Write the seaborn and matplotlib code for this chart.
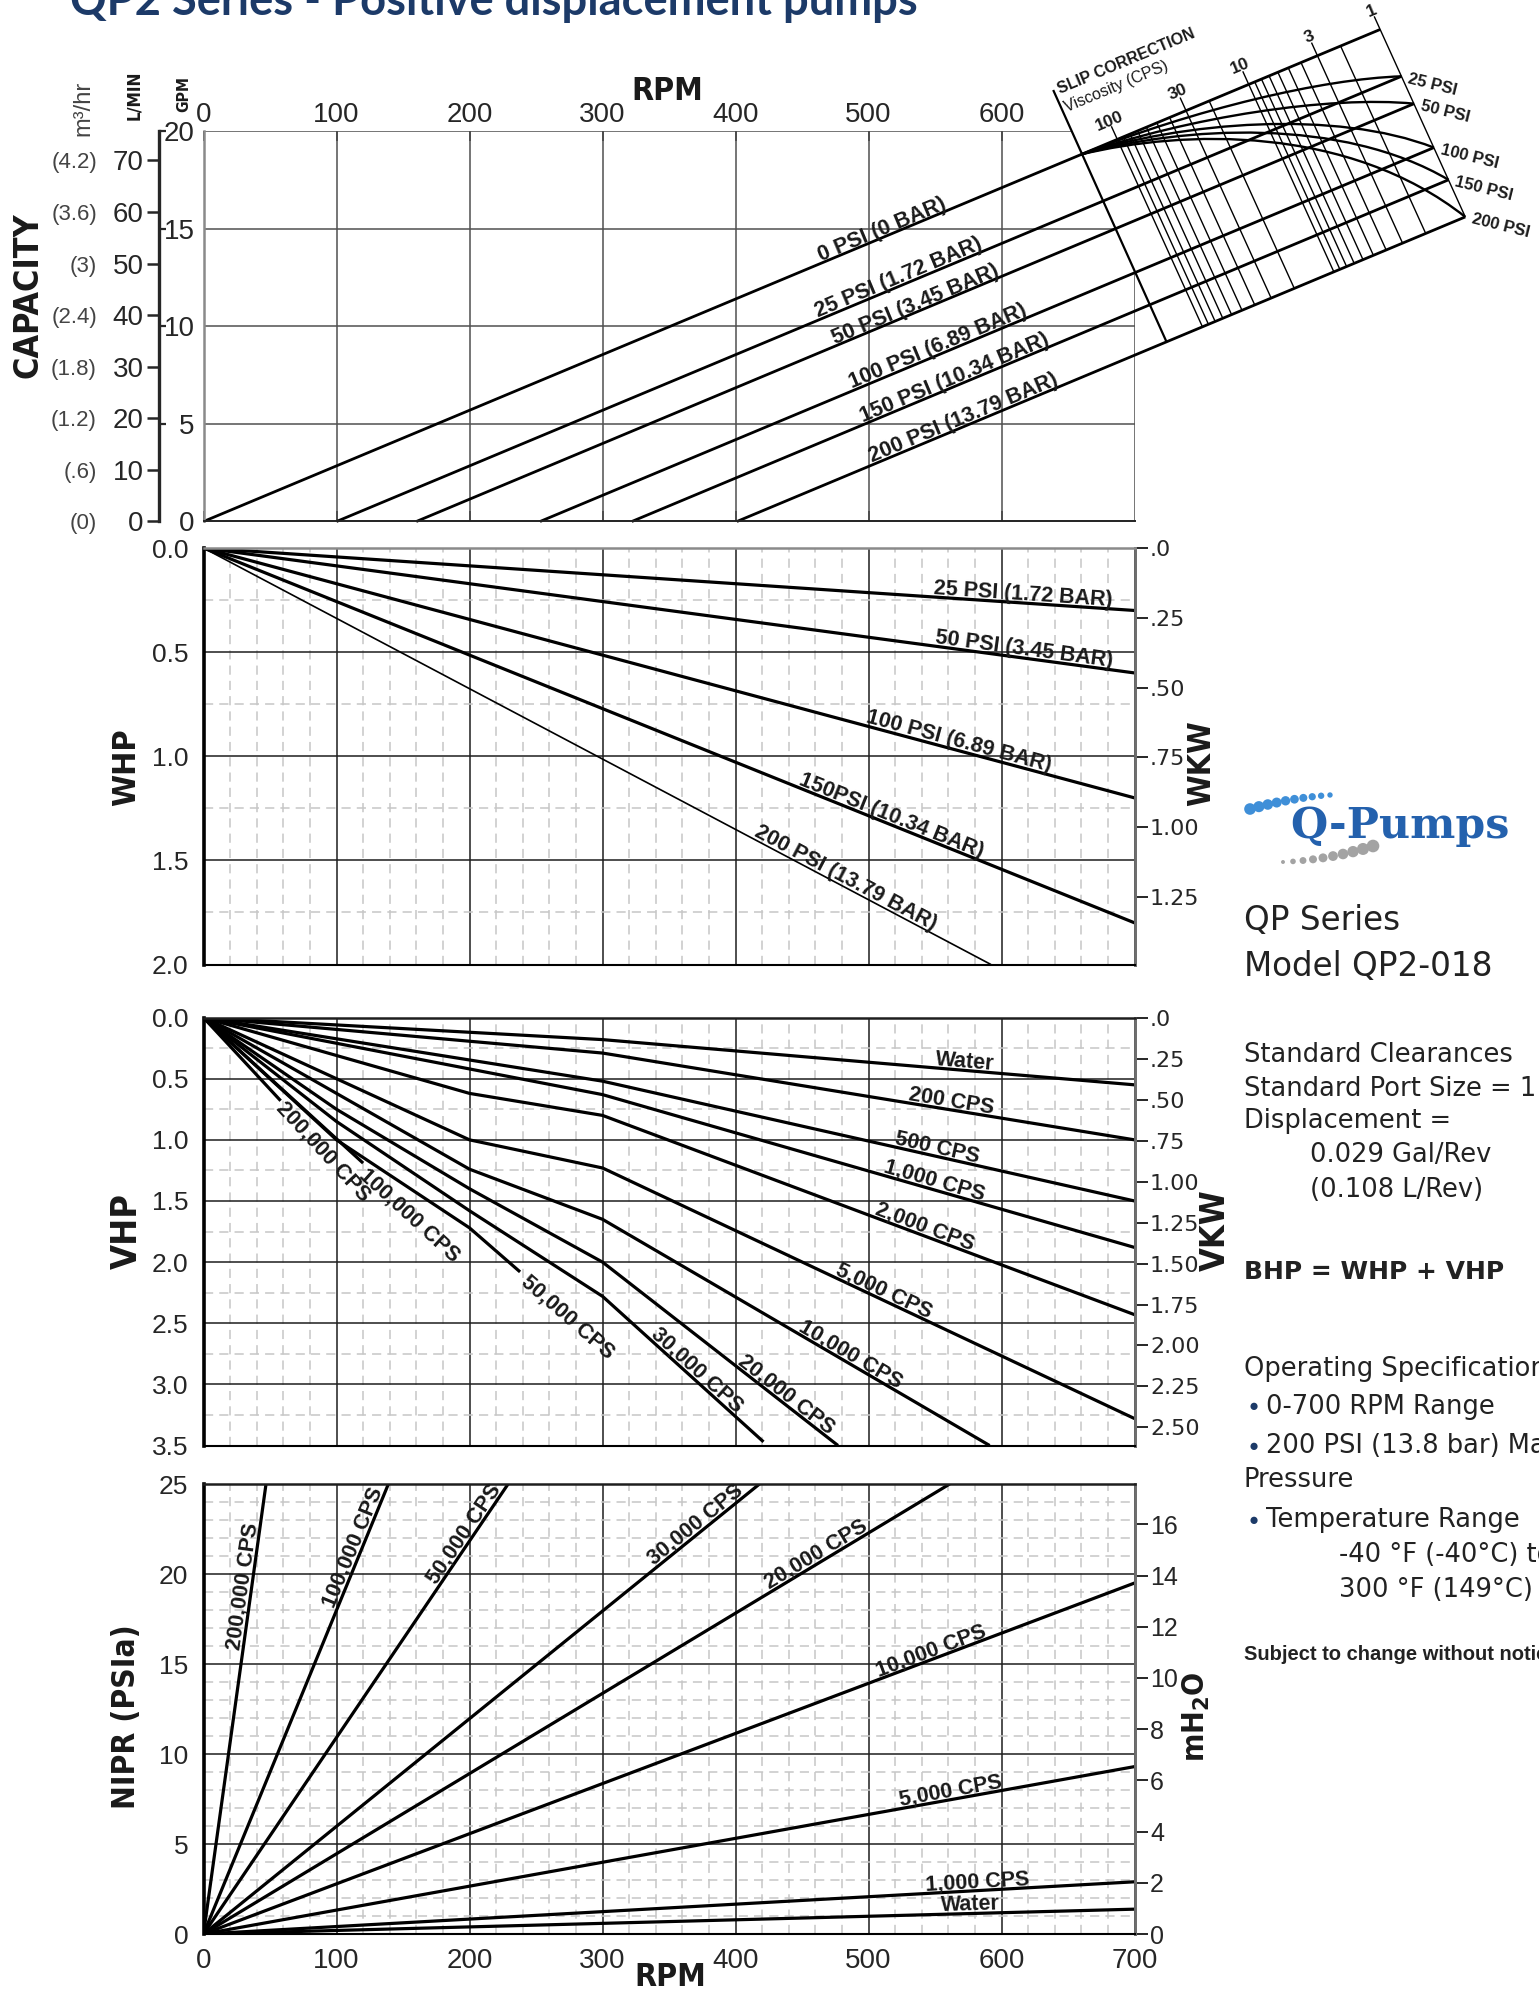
#!/usr/bin/env python3
import numpy as np
import pandas as pd
import matplotlib

matplotlib.use("Agg")
import matplotlib.pyplot as plt  # noqa: E402
import seaborn as sns  # noqa: E402
from matplotlib import font_manager  # noqa: E402
from matplotlib.patches import PathPatch  # noqa: E402
from matplotlib.path import Path  # noqa: E402
from matplotlib.ticker import MultipleLocator  # noqa: E402

# --- capacity (GPM vs RPM); each pressure line runs on through the slip scale
CAP_LABELS = ["0 PSI (0 BAR)", "25 PSI (1.72 BAR)", "50 PSI (3.45 BAR)",
              "100 PSI (6.89 BAR)", "150 PSI (10.34 BAR)", "200 PSI (13.79 BAR)"]
CAP_START_RPM = [0, 100, 160, 253, 322, 401]
CAP_END_RPM = [884.6, 900.6, 910.1, 925.0, 936.0, 948.6]
CAP_END_GPM = [25.2, 22.8, 21.4, 19.15, 17.5, 15.6]
CAP_LABEL_RPM = [512.6, 525.0, 537.4, 554.6, 567.0, 573.8]
GPM_TICKS = [0, 5, 10, 15, 20]
LPM_TICKS = [0, 10, 20, 30, 40, 50, 60, 70]
M3H_LABELS = ["(0)", "(.6)", "(1.2)", "(1.8)", "(2.4)", "(3)", "(3.6)", "(4.2)"]

# --- slip correction scale (log viscosity, 100 cps -> 1 cps)
SLIP_PSI = ["25 PSI", "50 PSI", "100 PSI", "150 PSI", "200 PSI"]
SLIP_VISC = [100, 90, 80, 70, 60, 50, 40, 30, 20, 10, 9, 8, 7, 6, 5, 4, 3, 2, 1]
SLIP_VISC_TICKS = [100, 30, 10, 3, 1]
SLIP_RPM_100 = 687.0
SLIP_RPM_1 = 884.6
SLIP_EDGE_RPM = [638.8, 724.0]
SLIP_EDGE_GPM = [22.1, 9.2]
SLIP_FOCUS = [659.8, 18.8]
SLIP_C1_RPM = [745.9, 741.1, 736.4, 736.4, 736.4]
SLIP_C1_GPM = [21.13, 20.72, 20.47, 20.26, 20.07]
SLIP_C2_RPM = [841.5, 846.3, 851.1, 855.9, 860.7]
SLIP_C2_GPM = [22.67, 21.82, 21.11, 20.72, 20.33]

# --- water horsepower
WHP_LABELS = ["25 PSI (1.72 BAR)", "50 PSI (3.45 BAR)", "100 PSI (6.89 BAR)",
              "150PSI (10.34 BAR)", "200 PSI (13.79 BAR)"]
WHP_END_RPM = [700, 700, 700, 700, 592]
WHP_END_HP = [0.30, 0.60, 1.20, 1.80, 2.00]
WHP_LABEL_RPM = [616, 616, 566, 515, 480]
WKW_TICKS = [0, 0.25, 0.5, 0.75, 1.0, 1.25]
WKW_LABELS = [".0", ".25", ".50", ".75", "1.00", "1.25"]

# --- viscous horsepower
VHP_LABELS = ["Water", "200 CPS", "500 CPS", "1,000 CPS", "2,000 CPS", "5,000 CPS",
              "10,000 CPS", "20,000 CPS", "30,000 CPS", "50,000 CPS",
              "100,000 CPS", "200,000 CPS"]
VHP_RPM = [[0, 300, 700], [0, 300, 700], [0, 300, 700], [0, 300, 700],
           [0, 200, 300, 700], [0, 200, 300, 700], [0, 200, 300, 591],
           [0, 100, 200, 300, 477], [0, 100, 200, 300, 421], [0, 100, 200, 238],
           [0, 120], [0, 58]]
VHP_HP = [[0, 0.18, 0.55], [0, 0.29, 1.00], [0, 0.52, 1.50], [0, 0.63, 1.88],
          [0, 0.62, 0.80, 2.43], [0, 1.00, 1.23, 3.28], [0, 1.24, 1.65, 3.50],
          [0, 0.75, 1.40, 2.00, 3.50], [0, 0.85, 1.58, 2.28, 3.47],
          [0, 1.00, 1.72, 2.08], [0, 1.19], [0, 0.68]]
# labels sit on their line at LABEL_RPM; the last three run on past the line end
VHP_LABEL_RPM = [572, 561, 550, 548, 540, 509, 483, 434, 367, 273.5, 154.9, 89.9]
VHP_TAIL_HP = [2.448, 1.615, 1.094]
VKW_TICKS = [0, 0.25, 0.5, 0.75, 1.0, 1.25, 1.5, 1.75, 2.0, 2.25, 2.5]
VKW_LABELS = [".0", ".25", ".50", ".75", "1.00", "1.25", "1.50", "1.75", "2.00",
              "2.25", "2.50"]

# --- net inlet pressure required
NPR_LABELS = ["Water", "1,000 CPS", "5,000 CPS", "10,000 CPS", "20,000 CPS",
              "30,000 CPS", "50,000 CPS", "100,000 CPS", "200,000 CPS"]
NPR_END_RPM = [700, 700, 700, 700, 561, 418, 229, 139, 47]
NPR_END_PSI = [1.38, 2.9, 9.3, 19.5, 25, 25, 25, 25, 25]
NPR_LABEL_RPM = [577, 582, 563, 549, 464, 374, 201, 118.4, 36.2]
MH2O_TICKS = [0, 2, 4, 6, 8, 10, 12, 14, 16]

HP_TO_KW = 0.7457
GPM_TO_LPM = 3.7854
PSI_TO_M = 0.7031

sns.set_style("white")
_fonts = font_manager.fontManager.ttflist
_names = {f.name for f in _fonts}
SANS = "Liberation Sans" if "Liberation Sans" in _names else "DejaVu Sans"
WIDE = "DejaVu Sans"
if "Liberation Sans Narrow" in _names:
    COND = dict(fontfamily="Liberation Sans Narrow")
elif any(f.name == "DejaVu Sans" and "condensed" in str(f.stretch) for f in _fonts):
    COND = dict(fontfamily="DejaVu Sans", fontstretch="condensed")
else:
    COND = dict(fontfamily=SANS)
plt.rcParams["font.family"] = [SANS, "DejaVu Sans"]
plt.rcParams["text.color"] = "#1a1a1a"

FW, FH = 1539.0, 1995.0
fig = plt.figure(figsize=(FW / 100, FH / 100), dpi=100)
fig.patch.set_facecolor("white")


def fpos(x, y):
    return x / FW, 1.0 - y / FH


def panel(top, bottom):
    return fig.add_axes([203.5 / FW, 1 - bottom / FH, 931.1 / FW, (bottom - top) / FH])


ax_cap = panel(131, 521.5)
ax_whp = panel(548, 964.5)
ax_vhp = panel(1017.6, 1445.5)
ax_npr = panel(1484, 1934)


def draw(ax, df, x, y, lw, units=None, clip=True):
    n = len(ax.lines)
    sns.lineplot(data=df, x=x, y=y, units=units, estimator=None, sort=False,
                 color="black", linewidth=lw, ax=ax, legend=False)
    for ln in ax.lines[n:]:
        ln.set_clip_on(clip)
        ln.set_solid_capstyle("butt")
    ax.set_xlabel("")
    ax.set_ylabel("")


def long_df(rpms, vals, names):
    rows = []
    for r, v, nm in zip(rpms, vals, names):
        for a, b in zip(r, v):
            rows.append((a, b, nm))
    return pd.DataFrame(rows, columns=["rpm", "val", "line"])


def seg_angle(ax, xs, ys, x_at):
    xs = np.asarray(xs, float)
    ys = np.asarray(ys, float)
    k = int(np.clip(np.searchsorted(xs, x_at), 1, len(xs) - 1))
    p0, p1 = ax.transData.transform([(xs[k - 1], ys[k - 1]), (xs[k], ys[k])])
    return np.degrees(np.arctan2(p1[1] - p0[1], p1[0] - p0[0]))


LABEL_KW = dict(fontsize=15.5, fontweight="bold", fontfamily=SANS,
                rotation_mode="anchor", ha="center", color="#1a1a1a")


def line_label(ax, text, xs, ys, x_at, gap=3.0):
    """Text sitting on top of a line, turned to the line's slope."""
    ang = seg_angle(ax, xs, ys, x_at)
    y_at = float(np.interp(x_at, xs, ys))
    th = np.radians(ang)
    ax.annotate(text, xy=(x_at, y_at), xytext=(-np.sin(th) * gap, np.cos(th) * gap),
                textcoords="offset pixels", rotation=ang, va="baseline",
                annotation_clip=False, **LABEL_KW)


def on_cap_line(i, rpm):
    return float(np.interp(rpm, [CAP_START_RPM[i], CAP_END_RPM[i]], [0.0, CAP_END_GPM[i]]))


# ================= capacity + slip correction =================
ax = ax_cap
cap_df = long_df([[CAP_START_RPM[i], CAP_END_RPM[i]] for i in range(6)],
                 [[0.0, CAP_END_GPM[i]] for i in range(6)], CAP_LABELS)
draw(ax, cap_df, "rpm", "val", 2.0, units="line", clip=False)

span = SLIP_RPM_1 - SLIP_RPM_100
shift = CAP_END_RPM[-1] - CAP_END_RPM[0]
visc_rows = []
visc_top = {}
for v in SLIP_VISC:
    r_top = SLIP_RPM_100 + span * np.log10(100.0 / v) / 2.0
    r_bot = r_top + shift
    g_top, g_bot = on_cap_line(0, r_top), on_cap_line(5, r_bot)
    visc_top[v] = (r_top, g_top, r_bot, g_bot)
    if v in SLIP_VISC_TICKS:
        # labelled lines poke a little above the 0 psi line
        r_top, g_top = r_top - 0.07 * shift, g_top + 0.07 * (g_top - g_bot)
    visc_rows += [(r_top, g_top, v), (r_bot, g_bot, v)]
visc_df = pd.DataFrame(visc_rows, columns=["rpm", "val", "line"])
draw(ax, visc_df, "rpm", "val", 1.0, units="line", clip=False)
edge_df = pd.DataFrame({"rpm": SLIP_EDGE_RPM, "val": SLIP_EDGE_GPM})
draw(ax, edge_df, "rpm", "val", 1.6, clip=False)

for i in range(5):
    verts = [SLIP_FOCUS, (SLIP_C1_RPM[i], SLIP_C1_GPM[i]),
             (SLIP_C2_RPM[i], SLIP_C2_GPM[i]), (CAP_END_RPM[i + 1], CAP_END_GPM[i + 1])]
    path = Path(verts, [Path.MOVETO, Path.CURVE4, Path.CURVE4, Path.CURVE4])
    ax.add_patch(PathPatch(path, facecolor="none", edgecolor="black", lw=1.7,
                           transform=ax.transData, clip_on=False))

ax.set_xlim(0, 700)
ax.set_ylim(0, 20)

# grid stops at the slip-correction edge
for g in GPM_TICKS[1:]:
    end = min(700.0, float(np.interp(g, SLIP_EDGE_GPM[::-1], SLIP_EDGE_RPM[::-1])))
    ax.hlines(g, 0, end, color="#505050", lw=1.1, zorder=1)
for r in range(100, 700, 100):
    ax.vlines(r, 0, 20, color="#505050", lw=1.1, zorder=1)
ax.vlines(700, 0, on_cap_line(3, 700), color="#505050", lw=1.1, zorder=1)

for s in ("top", "right"):
    ax.spines[s].set_visible(False)
ax.spines["left"].set_color("#8a8a8a")
ax.spines["left"].set_linewidth(1.8)
ax.spines["bottom"].set_color("#222222")
ax.spines["bottom"].set_linewidth(1.4)
ax.set_xticks(range(0, 700, 100))
ax.tick_params(axis="x", top=True, bottom=True, labeltop=True, labelbottom=False,
               direction="in", length=7, width=1.2, labelsize=20, pad=2)
ax.set_yticks(GPM_TICKS)
ax.yaxis.set_minor_locator(MultipleLocator(1))
ax.tick_params(axis="y", which="major", direction="out", length=5, width=1.3,
               labelsize=20, pad=1.5)
ax.tick_params(axis="y", which="minor", direction="in", length=6, width=1.0,
               color="#8a8a8a")

lpm = ax.secondary_yaxis(-44.5 / 931.1, functions=(lambda g: g * GPM_TO_LPM,
                                                   lambda q: q / GPM_TO_LPM))
lpm.set_yticks(LPM_TICKS, labels=[str(t) for t in LPM_TICKS], fontsize=20)
# short inward marks on the L/MIN spine at the GPM grid levels
lpm.set_yticks([g * GPM_TO_LPM for g in GPM_TICKS[1:]], minor=True)
lpm.spines["left"].set_linewidth(2.4)
lpm.tick_params(which="major", length=9, width=1.8, pad=2)
lpm.tick_params(which="minor", direction="in", length=5, width=1.6)
m3h = ax.secondary_yaxis(-106.5 / 931.1, functions=(lambda g: g * GPM_TO_LPM,
                                                    lambda q: q / GPM_TO_LPM))
m3h.set_yticks(LPM_TICKS, labels=M3H_LABELS, fontsize=16, color="#444444")
m3h.spines["left"].set_visible(False)
m3h.tick_params(length=0, pad=0)

cap_ang = seg_angle(ax, [0, CAP_END_RPM[0]], [0, CAP_END_GPM[0]], 100)
for i in range(6):
    line_label(ax, CAP_LABELS[i], [CAP_START_RPM[i], CAP_END_RPM[i]],
               [0.0, CAP_END_GPM[i]], CAP_LABEL_RPM[i], gap=2.0)

# slip scale labels
for v in SLIP_VISC_TICKS:
    r_top, g_top, r_bot, g_bot = visc_top[v]
    p_top, p_bot = ax.transData.transform([(r_top, g_top), (r_bot, g_bot)])
    u = (p_top - p_bot) / np.hypot(*(p_top - p_bot))
    ax.annotate(str(v), xy=(r_top, g_top), xytext=tuple(u * 20), textcoords="offset pixels",
                rotation=cap_ang, rotation_mode="anchor", ha="center", va="center",
                fontsize=12.5, fontweight="bold", annotation_clip=False)
ax.annotate("SLIP CORRECTION", xy=(SLIP_EDGE_RPM[0], SLIP_EDGE_GPM[0]), xytext=(7, -4),
            textcoords="offset pixels", rotation=cap_ang, rotation_mode="anchor",
            ha="left", va="baseline", fontsize=11.5, fontweight="bold",
            annotation_clip=False)
ax.annotate("Viscosity (CPS)", xy=(SLIP_EDGE_RPM[0], SLIP_EDGE_GPM[0]), xytext=(14, -22),
            textcoords="offset pixels", rotation=cap_ang, rotation_mode="anchor",
            ha="left", va="baseline", fontsize=11.5, annotation_clip=False)
for i in range(5):
    ax.annotate(SLIP_PSI[i], xy=(CAP_END_RPM[i + 1], CAP_END_GPM[i + 1]), xytext=(7, -2),
                textcoords="offset pixels", rotation=-14, rotation_mode="anchor",
                ha="left", va="center", fontsize=12, fontweight="bold",
                annotation_clip=False)


# ================= shared style for the three lower panels =================
def grid_panel(ax, ylim, ymajor, yminor, top_color):
    ax.set_xlim(0, 700)
    ax.set_ylim(*ylim)
    ax.xaxis.set_major_locator(MultipleLocator(100))
    ax.xaxis.set_minor_locator(MultipleLocator(20))
    ax.yaxis.set_major_locator(MultipleLocator(ymajor))
    ax.yaxis.set_minor_locator(MultipleLocator(yminor))
    ax.set_axisbelow(True)
    ax.grid(which="major", color="#1e1e1e", linewidth=1.1)
    ax.grid(which="minor", color="#c6c6c6", linewidth=1.1, linestyle=(0, (6, 4)))
    ax.spines["left"].set_linewidth(2.6)
    ax.spines["left"].set_color("black")
    ax.spines["bottom"].set_linewidth(1.5)
    ax.spines["bottom"].set_color("black")
    ax.spines["top"].set_color(top_color)
    ax.spines["top"].set_linewidth(1.8)
    ax.spines["right"].set_color("#6e6e6e")
    ax.spines["right"].set_linewidth(2.0)
    ax.tick_params(axis="x", which="both", length=0, labelbottom=False)
    ax.tick_params(axis="y", which="major", direction="out", length=8, width=1.4,
                   labelsize=19, pad=3)
    ax.tick_params(axis="y", which="minor", direction="out", length=4, width=1.0)


def right_axis(ax, fwd, inv, ticks, labels, size=16, family=WIDE):
    sec = ax.secondary_yaxis("right", functions=(fwd, inv))
    sec.set_yticks(ticks, labels=labels, fontsize=size, fontfamily=family)
    sec.spines["right"].set_color("#6e6e6e")
    sec.spines["right"].set_linewidth(2.0)
    sec.tick_params(length=9, width=1.4, pad=2)
    return sec


# ================= WHP =================
ax = ax_whp
whp_df = long_df([[0, r] for r in WHP_END_RPM], [[0, h] for h in WHP_END_HP], WHP_LABELS)
draw(ax, whp_df[whp_df["line"] != WHP_LABELS[-1]], "rpm", "val", 2.3, units="line")
draw(ax, whp_df[whp_df["line"] == WHP_LABELS[-1]], "rpm", "val", 1.2)
grid_panel(ax, (2.0, 0.0), 0.5, 0.25, "#8a8a8a")
ax.set_yticks([0, 0.5, 1.0, 1.5, 2.0], labels=["0.0", "0.5", "1.0", "1.5", "2.0"])
right_axis(ax, lambda h: h * HP_TO_KW, lambda k: k / HP_TO_KW, WKW_TICKS, WKW_LABELS)
for i, lab in enumerate(WHP_LABELS):
    line_label(ax, lab, [0, WHP_END_RPM[i]], [0, WHP_END_HP[i]], WHP_LABEL_RPM[i])

# ================= VHP =================
ax = ax_vhp
draw(ax, long_df(VHP_RPM, VHP_HP, VHP_LABELS), "rpm", "val", 2.3, units="line")
grid_panel(ax, (3.5, 0.0), 0.5, 0.25, "#1e1e1e")
ax.set_yticks([0, 0.5, 1.0, 1.5, 2.0, 2.5, 3.0, 3.5],
              labels=["0.0", "0.5", "1.0", "1.5", "2.0", "2.5", "3.0", "3.5"])
right_axis(ax, lambda h: h * HP_TO_KW, lambda k: k / HP_TO_KW, VKW_TICKS, VKW_LABELS)
n_tail = len(VHP_TAIL_HP)
for i, lab in enumerate(VHP_LABELS):
    if i < len(VHP_LABELS) - n_tail:
        line_label(ax, lab, VHP_RPM[i], VHP_HP[i], VHP_LABEL_RPM[i])
    else:
        ang = seg_angle(ax, VHP_RPM[i], VHP_HP[i], VHP_LABEL_RPM[i])
        ax.text(VHP_LABEL_RPM[i], VHP_TAIL_HP[i - len(VHP_LABELS) + n_tail], lab,
                rotation=ang, va="center", **LABEL_KW)

# ================= NIPR =================
ax = ax_npr
npr_df = long_df([[0, r] for r in NPR_END_RPM], [[0, p] for p in NPR_END_PSI], NPR_LABELS)
draw(ax, npr_df, "rpm", "val", 2.3, units="line")
grid_panel(ax, (0, 25), 5, 1, "#1e1e1e")
ax.set_yticks([0, 5, 10, 15, 20, 25])
ax.tick_params(axis="x", which="major", length=6, width=1.3, direction="out",
               labelbottom=True, labelsize=20, pad=4)
right_axis(ax, lambda p: p * PSI_TO_M, lambda m: m / PSI_TO_M, MH2O_TICKS,
           [str(t) for t in MH2O_TICKS], size=18, family=SANS)
for i, lab in enumerate(NPR_LABELS):
    line_label(ax, lab, [0, NPR_END_RPM[i]], [0, NPR_END_PSI[i]], NPR_LABEL_RPM[i])

# ================= axis titles (sized to the lengths on the sheet) =================
title_kw = dict(fontweight="bold", ha="center", va="center", rotation=90,
                color="#1a1a1a", **COND)
fitted = [
    (fig.text(*fpos(127, 767), "WHP", fontsize=26, **title_kw), 78),
    (fig.text(*fpos(127, 1231), "VHP", fontsize=26, **title_kw), 76),
    (fig.text(*fpos(127, 1717), "NIPR (PSIa)", fontsize=26, **title_kw), 184),
    (fig.text(*fpos(1202, 763), "WKW", fontsize=27, **title_kw), 86),
    (fig.text(*fpos(1215, 1230), "VKW", fontsize=27, **title_kw), 82),
    (fig.text(*fpos(1196, 1717), r"mH$_\mathbf{2}$O", fontsize=27, **title_kw), 90),
    (fig.text(*fpos(28, 295), "CAPACITY", fontsize=27, **title_kw), 166),
    (fig.text(*fpos(134, 95), "L/MIN", fontsize=15, **title_kw), 50),
    (fig.text(*fpos(184, 94), "GPM", fontsize=15, **title_kw), 36),
]
fig.text(*fpos(83, 108), "m³/hr", fontsize=17, rotation=90, ha="center", va="center",
         color="#444444")
rpm_kw = dict(fontsize=27, fontweight="bold", ha="center", va="center", **COND)
fitted.append((fig.text(*fpos(667, 92), "RPM", **rpm_kw), 72))
fitted.append((fig.text(*fpos(670, 1978), "RPM", **rpm_kw), 72))

# ================= heading, logo and spec block =================
NAVY = "#1c3a68"
title = fig.text(*fpos(70, 15), "QP2 Series - Positive displacement pumps", fontsize=40,
                 fontweight="bold", color=NAVY, fontfamily=["Lato", "DejaVu Sans"],
                 ha="left", va="baseline")
logo = fig.text(*fpos(1400, 826), "Q-Pumps", fontsize=32, fontweight="bold",
                color="#2461ad", fontfamily=["DejaVu Serif"], ha="center", va="center")
fitted += [(title, 848), (logo, 219)]

renderer = fig.canvas.get_renderer()
for txt, target in fitted:
    bb = txt.get_window_extent(renderer)
    txt.set_fontsize(txt.get_fontsize() * target / max(bb.width, bb.height))

ov = fig.add_axes([0, 0, 1, 1], zorder=-1)
ov.set_xlim(0, FW)
ov.set_ylim(FH, 0)
ov.axis("off")
t = np.linspace(0, 1, 10)
ov.scatter(1250 + 80 * t, 809 - 22 * t + 8 * t ** 2, s=70 - 55 * t, color="#3f8fd8",
           linewidths=0)
ov.scatter(1283 + 90 * t, 862 - 4 * t - 12 * t ** 2, s=8 + 75 * t, color="#a3a3a3",
           linewidths=0)

spec_kw = dict(fontfamily=WIDE, ha="left", va="center", color="#222222")
fig.text(*fpos(1244, 921), "QP Series", fontsize=23.5, **spec_kw)
fig.text(*fpos(1244, 966), "Model QP2-018", fontsize=23.5, **spec_kw)
fig.text(*fpos(1244, 1055), "Standard Clearances", fontsize=18.5, **spec_kw)
fig.text(*fpos(1244, 1089), "Standard Port Size = 1", fontsize=18.5, **spec_kw)
fig.text(*fpos(1244, 1121), "Displacement =", fontsize=18.5, **spec_kw)
fig.text(*fpos(1310, 1155), "0.029 Gal/Rev", fontsize=18.5, **spec_kw)
fig.text(*fpos(1310, 1190), "(0.108 L/Rev)", fontsize=18.5, **spec_kw)
fig.text(*fpos(1244, 1272), "BHP = WHP + VHP", fontsize=18, fontweight="bold", **spec_kw)
fig.text(*fpos(1244, 1369), "Operating Specifications", fontsize=18.5, **spec_kw)
for y, txt in ((1407, "0-700 RPM Range"), (1446, "200 PSI (13.8 bar) Max"),
               (1520, "Temperature Range")):
    fig.text(*fpos(1254, y), "\u25CF", fontsize=12, color=NAVY, ha="center", va="center")
    fig.text(*fpos(1266, y), txt, fontsize=18.5, **spec_kw)
fig.text(*fpos(1244, 1480), "Pressure", fontsize=18.5, **spec_kw)
fig.text(*fpos(1339, 1555), "-40 °F (-40°C) to", fontsize=18.5, **spec_kw)
fig.text(*fpos(1339, 1590), "300 °F (149°C)", fontsize=18.5, **spec_kw)
fig.text(*fpos(1244, 1654), "Subject to change without notice", fontsize=14.5,
         fontweight="bold", fontfamily=SANS, ha="left", va="center", color="#222222")

fig.savefig("out.png", dpi=100)
plt.close(fig)
